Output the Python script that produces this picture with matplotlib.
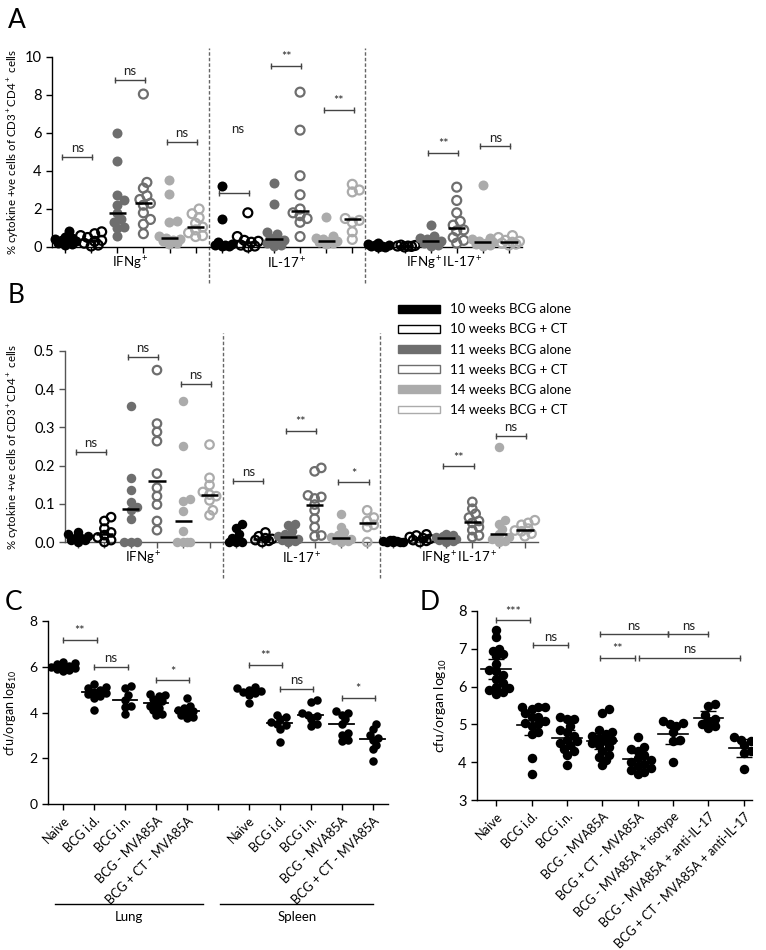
import matplotlib
matplotlib.use("Agg")
import matplotlib.pyplot as plt
import numpy as np
from matplotlib.patches import Patch

plt.rcParams['font.family'] = ['Lato', 'DejaVu Sans']
plt.rcParams['mathtext.fontset'] = 'custom'
plt.rcParams['mathtext.rm'] = 'Lato'
plt.rcParams['mathtext.it'] = 'Lato:italic'
plt.rcParams['mathtext.bf'] = 'Lato:bold'

BLACK = '#000000'
DARK = '#6e6e6e'
LIGHT = '#ababab'

# ---- data ----
groups = ["10 weeks BCG alone", "10 weeks BCG + CT", "11 weeks BCG alone",
          "11 weeks BCG + CT", "14 weeks BCG alone", "14 weeks BCG + CT"]
group_color = [BLACK, BLACK, DARK, DARK, LIGHT, LIGHT]
group_filled = [True, False, True, False, True, False]
cats = ["IFNg$^+$", "IL-17$^+$", "IFNg$^+$IL-17$^+$"]

# panel A (% of CD3+CD4+), per category, per group
a_ifng = [[0.85, 0.55, 0.45, 0.4, 0.35, 0.3, 0.25, 0.2, 0.15, 0.1],
          [0.8, 0.7, 0.6, 0.5, 0.35, 0.3, 0.2, 0.1, 0.05],
          [6.0, 4.55, 2.75, 2.45, 2.2, 1.8, 1.5, 1.3, 1.05, 1.0, 0.6],
          [8.05, 3.4, 3.1, 2.7, 2.5, 2.3, 2.2, 1.8, 1.45, 1.2, 0.7],
          [3.55, 2.8, 1.35, 1.3, 0.6, 0.45, 0.4, 0.35, 0.3, 0.2, 0.15],
          [2.0, 1.75, 1.55, 1.25, 1.05, 0.9, 0.75, 0.6, 0.55]]
a_il17 = [[3.2, 1.45, 0.25, 0.15, 0.1, 0.1, 0.05, 0.05],
          [1.8, 0.55, 0.35, 0.3, 0.25, 0.1, 0.05, 0.0],
          [3.35, 2.25, 0.8, 0.7, 0.5, 0.35, 0.3, 0.2, 0.1, 0.05],
          [8.15, 6.15, 3.75, 2.75, 2.0, 1.8, 1.65, 1.5, 1.3, 0.55],
          [1.6, 0.6, 0.5, 0.4, 0.3, 0.3, 0.25, 0.2, 0.15],
          [3.3, 3.0, 2.9, 1.5, 1.4, 1.3, 0.8, 0.4]]
a_dual = [[0.2, 0.15, 0.1, 0.08, 0.05, 0.05, 0.02, 0.0],
          [0.1, 0.08, 0.05, 0.05, 0.03, 0.0],
          [1.15, 0.6, 0.5, 0.4, 0.3, 0.25, 0.2, 0.1, 0.05],
          [3.15, 2.45, 1.8, 1.35, 1.15, 0.9, 0.85, 0.5, 0.35, 0.2],
          [3.25, 0.5, 0.4, 0.3, 0.25, 0.2, 0.15, 0.1, 0.05],
          [0.6, 0.5, 0.35, 0.3, 0.25, 0.2, 0.15, 0.1]]

# panel B
b_ifng = [[0.025, 0.02, 0.015, 0.01, 0.01, 0.005, 0.005, 0.0],
          [0.065, 0.055, 0.035, 0.025, 0.018, 0.012, 0.005, 0.0],
          [0.355, 0.168, 0.137, 0.105, 0.092, 0.083, 0.06, 0.0, 0.0, 0.0],
          [0.45, 0.31, 0.288, 0.264, 0.179, 0.142, 0.12, 0.098, 0.055, 0.031],
          [0.37, 0.252, 0.112, 0.108, 0.08, 0.03, 0.0, 0.0, 0.0, 0.0],
          [0.255, 0.168, 0.149, 0.131, 0.124, 0.12, 0.109, 0.083, 0.07]]
b_il17 = [[0.047, 0.037, 0.02, 0.01, 0.005, 0.0, 0.0, 0.0],
          [0.025, 0.015, 0.01, 0.008, 0.005, 0.003, 0.0],
          [0.048, 0.045, 0.03, 0.02, 0.015, 0.01, 0.008, 0.005, 0.002, 0.0],
          [0.194, 0.185, 0.122, 0.118, 0.114, 0.098, 0.083, 0.061, 0.039, 0.017, 0.015],
          [0.074, 0.04, 0.026, 0.018, 0.012, 0.011, 0.008, 0.005, 0.002, 0.0],
          [0.083, 0.064, 0.055, 0.045, 0.039, 0.0]]
b_dual = [[0.005, 0.004, 0.003, 0.002, 0.001, 0.0, 0.0, 0.0],
          [0.02, 0.017, 0.013, 0.01, 0.008, 0.005, 0.003, 0.0],
          [0.022, 0.018, 0.015, 0.012, 0.01, 0.008, 0.005, 0.003, 0.0],
          [0.105, 0.087, 0.074, 0.064, 0.055, 0.05, 0.039, 0.031, 0.017, 0.013],
          [0.25, 0.057, 0.048, 0.035, 0.022, 0.012, 0.008, 0.003, 0.0],
          [0.057, 0.05, 0.045, 0.035, 0.03, 0.028, 0.022, 0.015]]

# significance: (group1, group2, y, text)
a_sig = [(0, 1, 4.74, 'ns'), (2, 3, 8.8, 'ns'), (4, 5, 5.53, 'ns'),
         (6, 7, 2.84, ''), (8, 9, 9.53, '**'), (10, 11, 7.2, '**'),
         (14, 15, 4.95, '**'), (16, 17, 5.3, 'ns')]
b_sig = [(0, 1, 0.236, 'ns'), (2, 3, 0.485, 'ns'), (4, 5, 0.413, 'ns'),
         (6, 7, 0.16, 'ns'), (8, 9, 0.291, '**'), (10, 11, 0.156, '*'),
         (14, 15, 0.198, '**'), (16, 17, 0.277, 'ns')]

# panel C (cfu/organ log10)
c_labels = ["Naive", "BCG i.d.", "BCG i.n.", "BCG - MVA85A", "BCG + CT - MVA85A"]
c_lung = [[6.2, 6.15, 6.1, 6.05, 6.0, 6.0, 5.95, 5.9, 5.85, 5.8],
          [5.25, 5.1, 5.05, 5.0, 4.9, 4.85, 4.8, 4.7, 4.65, 4.1],
          [5.17, 5.05, 4.75, 4.55, 4.3, 4.25, 3.92],
          [4.8, 4.75, 4.7, 4.6, 4.5, 4.4, 4.3, 4.2, 4.1, 3.95, 3.9],
          [4.65, 4.3, 4.2, 4.1, 4.05, 4.0, 3.9, 3.8, 3.75]]
c_spleen = [[5.1, 5.05, 5.0, 4.95, 4.9, 4.85, 4.75, 4.4],
            [3.9, 3.8, 3.7, 3.6, 3.5, 3.45, 3.3, 2.7],
            [4.55, 4.45, 4.0, 3.9, 3.85, 3.7, 3.5, 3.4],
            [4.05, 4.0, 3.9, 3.7, 3.5, 3.1, 3.0, 2.8, 2.75],
            [3.5, 3.3, 3.0, 2.9, 2.8, 2.6, 2.4, 1.9]]
c_sig = [(0, 1, 7.17, '**'), (1, 2, 6.0, 'ns'), (3, 4, 5.4, '*'),
         (6, 7, 6.08, '**'), (7, 8, 5.02, 'ns'), (9, 10, 4.65, '*')]

# panel D
d_labels = ["Naive", "BCG i.d.", "BCG i.n.", "BCG - MVA85A", "BCG + CT - MVA85A",
            "BCG - MVA85A + isotype", "BCG - MVA85A + anti-IL-17",
            "BCG + CT - MVA85A + anti-IL-17"]
d_vals = [[7.5, 7.3, 7.0, 6.95, 6.85, 6.8, 6.6, 6.45, 6.4, 6.3, 6.2, 6.1, 6.0, 5.95, 5.9, 5.85, 5.8],
          [5.47, 5.45, 5.45, 5.4, 5.3, 5.2, 5.2, 5.1, 5.05, 5.0, 4.95, 4.8, 4.75, 4.1, 3.7],
          [5.2, 5.15, 5.15, 4.95, 4.85, 4.8, 4.7, 4.6, 4.55, 4.5, 4.45, 4.35, 4.3, 4.2, 3.92],
          [5.4, 5.3, 4.85, 4.8, 4.75, 4.7, 4.65, 4.6, 4.55, 4.5, 4.45, 4.4, 4.3, 4.2, 4.15, 4.05, 3.92],
          [4.67, 4.4, 4.35, 4.3, 4.2, 4.1, 4.05, 4.0, 3.95, 3.9, 3.85, 3.8, 3.75, 3.7],
          [5.1, 5.05, 5.0, 4.95, 4.8, 4.6, 4.55, 4.0],
          [5.55, 5.48, 5.25, 5.15, 5.1, 5.0, 4.95, 4.9],
          [4.67, 4.6, 4.55, 4.45, 4.3, 4.25, 3.82]]
d_sig = [(0, 0.96, 7.75, '***'), (1.05, 2.03, 7.09, 'ns'), (2.94, 4.86, 7.38, 'ns'),
         (4.86, 6.0, 7.38, 'ns'), (2.94, 3.93, 6.76, '**'), (4.04, 6.9, 6.76, 'ns')]


def swarm(ax, x0, ys, d, maxw):
    # compact beeswarm in pixel space; d = marker diameter px, maxw = max half width px
    ys = np.asarray(ys, float)
    pts = ax.transData.transform(np.column_stack([np.full(len(ys), x0), ys]))
    placed = []
    out = np.zeros(len(ys))
    step = d * 0.35
    nmax = int(maxw // step)
    steps = [0] + [s * m for m in range(1, nmax + 1) for s in (1, -1)]
    for i in np.argsort(ys):
        px, py = pts[i]
        best, bestd = px, -1
        for c in steps:
            cx = px + c * step
            md = min([np.hypot(cx - qx, py - qy) for qx, qy in placed] + [1e9])
            if md >= d * 0.6:
                best = cx
                break
            if md > bestd:
                best, bestd = cx, md
        placed.append((best, py))
        out[i] = best
    return ax.transData.inverted().transform(np.column_stack([out, pts[:, 1]]))[:, 0]


def bracket(ax, x1, x2, y, txt, color='#444444', fs=9.5):
    ax.plot([x1, x2], [y, y], color=color, lw=1.0, clip_on=False)
    ax.plot([x1, x2], [y, y], ls='none', marker='|', ms=5, mew=1.0, color=color, clip_on=False)
    if txt:
        ax.annotate(txt, xy=((x1 + x2) / 2, y), xytext=(0, 2), textcoords='offset points',
                    ha='center', va='bottom', fontsize=fs if txt == 'ns' else fs - 0.5,
                    color='#222222')


def style_axes(ax, spine_color='black'):
    for s in ['top', 'right']:
        ax.spines[s].set_visible(False)
    for s in ['left', 'bottom']:
        ax.spines[s].set_color(spine_color)
        ax.spines[s].set_linewidth(1.0)
    ax.tick_params(direction='out', length=4, width=1, color=spine_color)


def cytokine_panel(ax, data, sig, ylim, yticks, fmt, spine_color, sep_y, d_px):
    ax.set_xlim(-0.5, 17.5)
    ax.set_ylim(*ylim)
    style_axes(ax, spine_color)
    ax.set_yticks(yticks)
    ax.set_yticklabels([fmt.format(t) for t in yticks], fontsize=10.5)
    ax.set_xticks(np.arange(18))
    ax.set_xticklabels([])
    s = (d_px * 0.72) ** 2
    for ci, cat in enumerate(data):
        for gi, ys in enumerate(cat):
            x = ci * 6 + gi
            xs = swarm(ax, x, ys, d_px, 11)
            col = group_color[gi]
            if group_filled[gi]:
                ax.scatter(xs, ys, s=s, color=col, lw=0, zorder=3, clip_on=False)
            else:
                ax.scatter(xs, ys, s=s * 0.8, facecolors='none', edgecolors=col, lw=1.6,
                           zorder=3, clip_on=False)
            m = np.median(ys)
            ax.plot([x - 0.33, x + 0.33], [m, m], color='black', lw=1.8, zorder=4,
                    solid_capstyle='butt')
    for sx in [5.5, 11.5]:
        ax.axvline(sx, ymin=sep_y[0], ymax=sep_y[1], color='#666666', lw=1.0,
                   ls=(0, (2.5, 1.5)), clip_on=False)
    for ci, cat in enumerate(cats):
        ax.annotate(cat, xy=(ci * 6 + 2.5, 0), xycoords=ax.get_xaxis_transform(),
                    xytext=(0, -12), textcoords='offset points',
                    ha='center', va='center', fontsize=9.5)
    for g1, g2, y, txt in sig:
        bracket(ax, g1 - 0.1, g2 + 0.05, y, txt)


fig = plt.figure(figsize=(7.66, 9.5), dpi=100)
W, H = 766.0, 950.0


def add_axes(l, t, r, b):
    return fig.add_axes([l / W, 1 - b / H, (r - l) / W, (b - t) / H])


# ---- panel A ----
axA = add_axes(52, 57, 522, 247)
cytokine_panel(axA, [a_ifng, a_il17, a_dual], a_sig, (0, 10), [0, 2, 4, 6, 8, 10], '{:g}',
               'black', (-0.19, 1.047), 10)
axA.text(6.6, 5.9, 'ns', ha='center', va='bottom', fontsize=9.5, color='#222222')
axA.set_ylabel('% cytokine +ve cells of CD3$^+$CD4$^+$ cells', fontsize=8.3)
axA.yaxis.set_label_coords(-0.066, 0.5)

# ---- panel B ----
axB = add_axes(65, 351, 538, 542)
cytokine_panel(axB, [b_ifng, b_il17, b_dual], b_sig, (0, 0.5),
               [0.0, 0.1, 0.2, 0.3, 0.4, 0.5], '{:.1f}', '#555555', (-0.19, 1.094), 9.5)
axB.set_ylabel('% cytokine +ve cells of CD3$^+$CD4$^+$ cells', fontsize=8.3)
axB.yaxis.set_label_coords(-0.093, 0.5)

handles = [Patch(facecolor=c if f else 'white', edgecolor=c, lw=1.0)
           for c, f in zip(group_color, group_filled)]
fig.legend(handles, groups, loc='upper left', bbox_to_anchor=(393 / W, 1 - 298 / H),
           frameon=False, fontsize=9.5, handlelength=3.2, handleheight=0.55,
           labelspacing=0.62, handletextpad=0.7, borderaxespad=0)

# ---- panel C ----
axC = add_axes(48, 621, 388, 804)
axC.set_xlim(-0.49, 10.5)
axC.set_ylim(0, 8)
style_axes(axC)
axC.set_yticks([0, 2, 4, 6, 8])
axC.set_yticklabels(['0', '2', '4', '6', '8'], fontsize=10)
axC.set_xticks(np.arange(11))
axC.set_xticklabels(c_labels + [''] + c_labels, rotation=45, ha='right',
                    rotation_mode='anchor', fontsize=9)
dC = 8.5
for i, ys in enumerate(c_lung + [None] + c_spleen):
    if ys is None:
        continue
    xs = swarm(axC, i, ys, dC, 13)
    axC.scatter(xs, ys, s=(dC * 0.72) ** 2, color='black', lw=0, zorder=3)
    m = np.median(ys)
    axC.plot([i - 0.4, i + 0.4], [m, m], color='black', lw=1.3, zorder=4)
for g1, g2, y, txt in c_sig:
    bracket(axC, g1, g2 + 0.08, y, txt)
axC.set_ylabel('cfu/organ log$_{10}$', fontsize=9)
axC.yaxis.set_label_coords(-0.085, 0.5)
tr = axC.get_xaxis_transform()
axC.plot([-0.26, 4.53], [-0.546, -0.546], color='black', lw=1.0, transform=tr, clip_on=False)
axC.plot([5.08, 10.03], [-0.546, -0.546], color='black', lw=1.0, transform=tr, clip_on=False)
axC.text(2.13, -0.62, 'Lung', transform=tr, ha='center', va='center', fontsize=9.5)
axC.text(7.55, -0.62, 'Spleen', transform=tr, ha='center', va='center', fontsize=9.5)

# ---- panel D ----
axD = add_axes(477, 611, 752, 800)
axD.set_xlim(-0.54, 7.23)
axD.set_ylim(3, 8)
style_axes(axD)
axD.set_yticks([3, 4, 5, 6, 7, 8])
axD.set_yticklabels(['3', '4', '5', '6', '7', '8'], fontsize=10.5)
axD.set_xticks(np.arange(8))
axD.set_xticklabels(d_labels, rotation=45, ha='right', rotation_mode='anchor', fontsize=9)
dD = 9.5
for i, ys in enumerate(d_vals):
    ys = np.asarray(ys)
    xs = swarm(axD, i, ys, dD, 14)
    axD.scatter(xs, ys, s=(dD * 0.72) ** 2, color='black', lw=0, zorder=3)
    mean = ys.mean()
    ci = 2.1 * ys.std(ddof=1) / np.sqrt(len(ys))
    axD.plot([i - 0.42, i + 0.42], [mean, mean], color='black', lw=1.2, zorder=4)
    axD.errorbar(i, mean, yerr=ci, color='black', lw=1.0, capsize=6, capthick=1.0, zorder=4)
for x1, x2, y, txt in d_sig:
    bracket(axD, x1, x2, y, txt)
axD.set_ylabel('cfu/organ log$_{10}$', fontsize=10)
axD.yaxis.set_label_coords(-0.1, 0.5)

# panel letters
for lab, x, y in [('A', 8, 8), ('B', 8, 283), ('C', 5, 590), ('D', 420, 590)]:
    fig.text(x / W, 1 - y / H, lab, fontsize=19, va='top', ha='left')

fig.savefig('out.png', dpi=100)
